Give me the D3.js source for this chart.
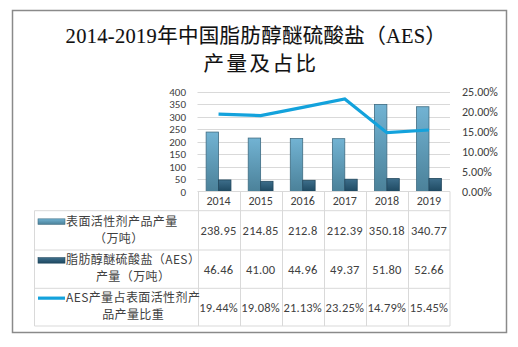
<!DOCTYPE html>
<html><head><meta charset="utf-8">
<script src="https://cdn.jsdelivr.net/npm/d3@7"></script>
<style>
html,body{margin:0;padding:0;background:#fff;}
svg{display:block;}
</style></head>
<body>
<svg id="c" width="518" height="347"></svg>
<script>
const years = ["2014","2015","2016","2017","2018","2019"];
const surfactant = [238.95, 214.85, 212.8, 212.39, 350.18, 340.77];
const aes = [46.46, 41.00, 44.96, 49.37, 51.80, 52.66];
const share = [19.44, 19.08, 21.13, 23.25, 14.79, 15.45];
const leftTicks = [0,50,100,150,200,250,300,350,400];
const rightTicks = [0,5,10,15,20,25];
const rowLabels = [
  ["表面活性剂产品产量","（万吨）"],
  ["脂肪醇醚硫酸盐（AES）","产量（万吨）"],
  ["AES产量占表面活性剂产","品产量比重"]
];
const rowText = [
  surfactant.map(v => String(v)),
  aes.map(v => v.toFixed(2)),
  share.map(v => v.toFixed(2) + "%")
];

const svg = d3.select("#c");
const txt = "#404040";
const grid = "#d9d9d9";
const numFont = "Carlito, Lato, 'Noto Sans', sans-serif";
const cjkFont = "'Noto Sans CJK SC', sans-serif";

const defs = svg.append("defs");
function grad(id, c1, c2){
  const g = defs.append("linearGradient").attr("id", id).attr("x1",0).attr("y1",0).attr("x2",0).attr("y2",1);
  g.append("stop").attr("offset","0%").attr("stop-color",c1);
  g.append("stop").attr("offset","100%").attr("stop-color",c2);
}
grad("g1","#72b3d3","#4b8199");
grad("g2","#3d6e8b","#1e4961");

// outer border
svg.append("rect").attr("x",12.5).attr("y",10.5).attr("width",494).attr("height",322)
  .attr("fill","none").attr("stroke","#8a8a8a").attr("stroke-width",1.5);

// title
const title = svg.append("g").attr("font-family","'Liberation Serif', 'Noto Sans CJK SC', serif")
  .attr("font-weight","normal").attr("fill","#111").attr("stroke","#111").attr("stroke-width",0.12)
  .attr("text-anchor","middle");
title.append("text").attr("x",256).attr("y",43).attr("font-size",20.5).attr("letter-spacing",0.3)
  .text("2014-2019年中国脂肪醇醚硫酸盐（AES）");
title.append("text").attr("x",261).attr("y",71).attr("font-size",20.5).attr("letter-spacing",2.5).text("产量及占比");

const x0 = 197.5, x1 = 450;
const x = d3.scaleBand().domain(years).range([x0, x1]);
const y = d3.scaleLinear().domain([0,400]).range([191.5, 92]);
const yr = d3.scaleLinear().domain([0,25]).range([191.5, 92]);

// gridlines
svg.append("g").selectAll("line").data(leftTicks.filter(d=>d>0)).join("line")
  .attr("x1",x0).attr("x2",x1).attr("y1",d=>Math.round(y(d))+0.5).attr("y2",d=>Math.round(y(d))+0.5)
  .attr("stroke",grid).attr("stroke-width",1);

// left axis
const la = svg.append("g").attr("transform","translate(186,0)")
  .call(d3.axisLeft(y).tickValues(leftTicks).tickSize(0).tickPadding(0).tickFormat(d3.format("d")));
la.select(".domain").remove();
la.selectAll("text").attr("font-family",numFont).attr("font-size",11).attr("fill",txt);

// right axis
const ra = svg.append("g").attr("transform","translate(462,0)")
  .call(d3.axisRight(yr).tickValues(rightTicks).tickSize(0).tickPadding(0).tickFormat(d=>d.toFixed(2)+"%"));
ra.select(".domain").remove();
ra.selectAll("text").attr("font-family",numFont).attr("font-size",12).attr("fill",txt);

// bars
const bw = x.bandwidth()*0.295;
svg.append("g").selectAll("rect").data(surfactant).join("rect")
  .attr("x",(d,i)=>x(years[i])+x.bandwidth()/2-bw).attr("width",bw)
  .attr("y",d=>y(d)).attr("height",d=>y(0)-y(d))
  .attr("fill","url(#g1)").attr("stroke","#3f6c82").attr("stroke-width",0.8);
svg.append("g").selectAll("rect").data(aes).join("rect")
  .attr("x",(d,i)=>x(years[i])+x.bandwidth()/2).attr("width",bw)
  .attr("y",d=>y(d)).attr("height",d=>y(0)-y(d))
  .attr("fill","url(#g2)").attr("stroke","#21475d").attr("stroke-width",0.8);

// line
const lineColor = "#13a2dc";
svg.append("path").datum(share)
  .attr("d", d3.line().x((d,i)=>x(years[i])+x.bandwidth()/2).y(d=>yr(d)))
  .attr("fill","none").attr("stroke",lineColor).attr("stroke-width",3.2).attr("stroke-linejoin","miter");

// table
const rowsY = [191.5, 210.7, 250, 288.3, 326];
const tg = svg.append("g").attr("stroke",grid).attr("stroke-width",1);
tg.append("line").attr("x1",x0).attr("x2",x1).attr("y1",191.5).attr("y2",191.5);
rowsY.slice(1).forEach(yy=>{
  tg.append("line").attr("x1",34.5).attr("x2",x1).attr("y1",yy).attr("y2",yy);
});
years.forEach(yv=>{
  tg.append("line").attr("x1",Math.round(x(yv))+0.5).attr("x2",Math.round(x(yv))+0.5).attr("y1",191.5).attr("y2",326);
});
tg.append("line").attr("x1",x1).attr("x2",x1).attr("y1",191.5).attr("y2",326);
tg.append("line").attr("x1",34.5).attr("x2",34.5).attr("y1",210.7).attr("y2",326);

// header years
svg.append("g").selectAll("text").data(years).join("text")
  .attr("x",d=>x(d)+x.bandwidth()/2).attr("y",201).attr("dy","0.35em")
  .attr("text-anchor","middle").attr("font-family",numFont).attr("font-size",12).attr("fill",txt)
  .text(d=>d);

// values
rowText.forEach((vals,r)=>{
  const cy = (rowsY[r+1]+rowsY[r+2])/2;
  svg.append("g").selectAll("text").data(vals).join("text")
    .attr("x",(d,i)=>x(years[i])+x.bandwidth()/2).attr("y",cy).attr("dy","0.35em")
    .attr("text-anchor","middle").attr("font-family",numFont).attr("font-size",12.5).attr("fill",txt)
    .attr("letter-spacing",0.2)
    .text(d=>d);
});

// legend keys + row labels
rowLabels.forEach((lines,r)=>{
  const cy = (rowsY[r+1]+rowsY[r+2])/2;
  const l1y = cy - 9, l2y = cy + 8;
  if (r===0 || r===1) {
    svg.append("rect").attr("x",38).attr("y",l1y-2.5).attr("width",27).attr("height",5.5)
      .attr("fill", r===0 ? "url(#g1)" : "url(#g2)")
      .attr("stroke", r===0 ? "#3f6c82" : "#21475d").attr("stroke-width",0.6);
  } else {
    svg.append("line").attr("x1",38).attr("x2",65).attr("y1",l1y).attr("y2",l1y)
      .attr("stroke",lineColor).attr("stroke-width",3.2);
  }
  const t1 = svg.append("text").attr("x",66).attr("y",l1y).attr("dy","0.35em")
    .attr("font-family",cjkFont).attr("font-size",12).attr("fill",txt).attr("letter-spacing",0.4)
    .text(lines[0]);
  const w = t1.node().getComputedTextLength();
  svg.append("text").attr("x",66 + w/2 + (r===0?-3:0)).attr("y",l2y).attr("dy","0.35em")
    .attr("text-anchor","middle")
    .attr("font-family",cjkFont).attr("font-size",12).attr("fill",txt).attr("letter-spacing",0.4)
    .text(lines[1]);
});
</script>
</body></html>
